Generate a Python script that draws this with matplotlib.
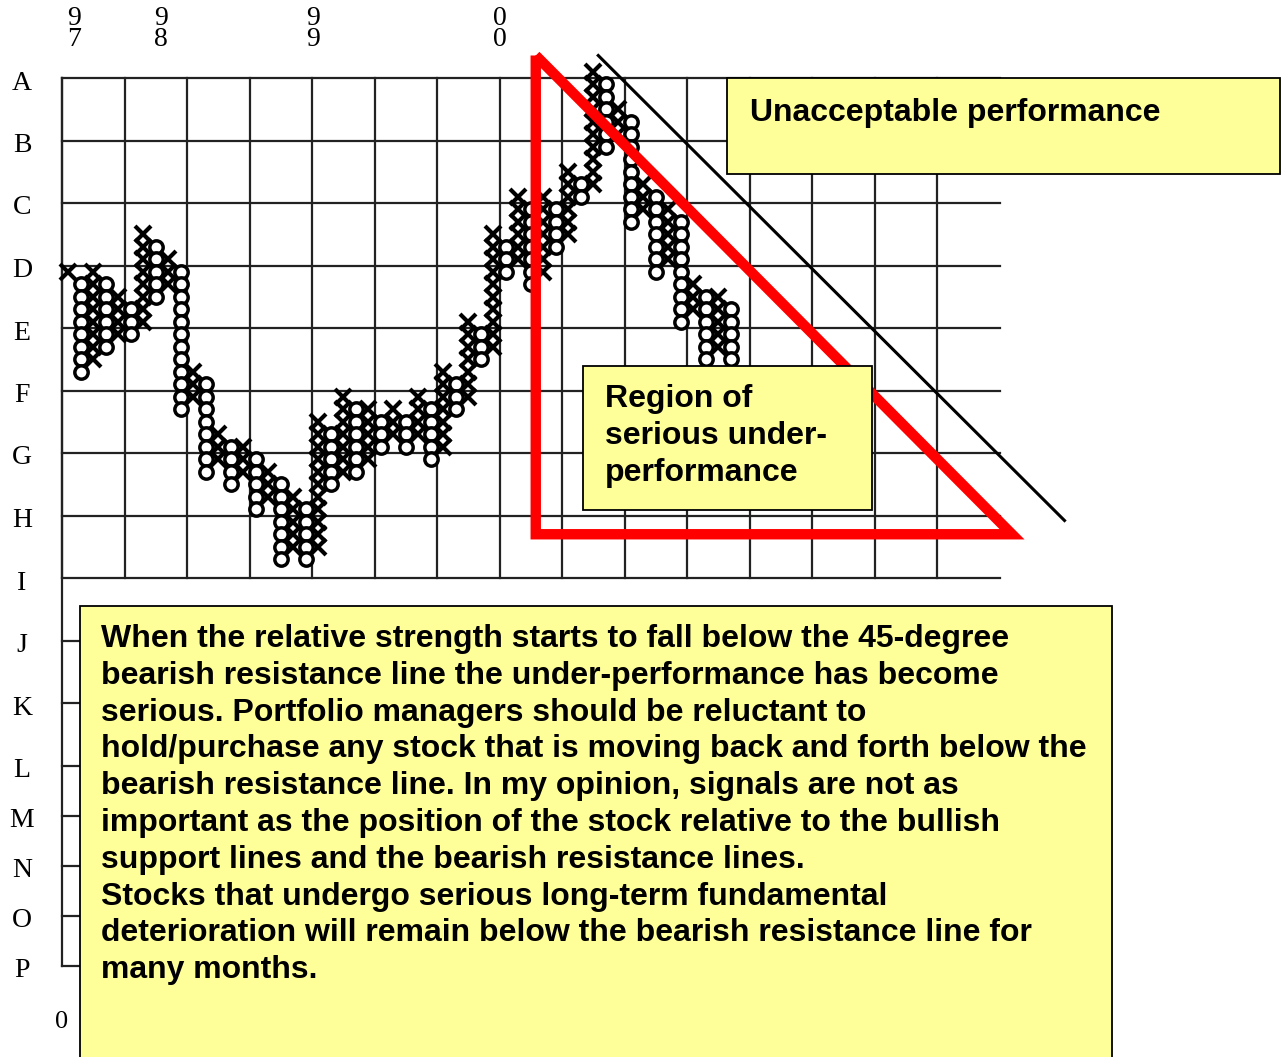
import matplotlib
matplotlib.use("Agg")
import matplotlib.pyplot as plt
from matplotlib.patches import Rectangle

# Point & figure relative strength chart (X = rising column, O = falling column)
# each column: (top box, bottom box), columns alternate X / O starting with X
col_tops = [15, 16, 15, 16, 17, 18, 12, 13, 14, 15, 23, 24, 28, 29, 29, 30, 31, 32,
            33, 34, 27, 28, 25, 26, 26, 27, 26, 27, 25, 26, 23, 24, 19, 20, 12, 13,
            9, 10, 9, 10, 7, 8, -1, 0, 2, 3, 8, 9, 10, 11, 16, 17, 17, 18]
col_bottoms = [15, 23, 22, 21, 20, 20, 19, 17, 16, 26, 25, 31, 30, 32, 31, 34, 33, 38,
               37, 38, 37, 32, 31, 31, 30, 29, 28, 29, 28, 30, 29, 26, 25, 22, 21, 15,
               14, 16, 15, 13, 12, 9, 8, 5, 4, 11, 10, 15, 14, 19, 18, 22, 21, 22]

# row labels and the box rows where their gridlines sit
row_labels = list("ABCDEFGHIJKLMNOP")
row_lines = [-0.5, 4.5, 9.5, 14.5, 19.5, 24.5, 29.5, 34.5, 39.5,
             44.5, 49.5, 54.5, 58.5, 62.5, 66.5, 70.5]
col_lines = [-0.5 + 5 * j for j in range(15)]

# year markers on top (column where the year starts), digits stacked
year_cols = [0.5, 7.4, 19.6, 34.5]
year_labels = ["9\n7", "9\n8", "9\n9", "0\n0"]

# 45-degree bearish resistance line and "region of under-performance" triangle
resist_cols = [42.4, 79.7]
resist_rows = [-2.3, 34.9]
region_cols = [37.4, 75.5, 37.4, 37.4]
region_rows = [-2.3, 36.0, 36.0, -2.3]

W, H = 1287, 1057
fig = plt.figure(figsize=(W / 100, H / 100), dpi=100)
ax = fig.add_axes([0, 0, 1, 1])
ax.set_xlim(-5.46, 97.5)
ax.set_ylim(77.82, -6.74)
ax.axis("off")

def px(x, y):
    return x / W, 1 - y / H

grid_kw = dict(color="#222222", lw=1.6, zorder=1)
for c in col_lines:
    ax.plot([c, c], [row_lines[0], row_lines[8]], **grid_kw)
ax.plot([col_lines[0]] * 2, [row_lines[0], row_lines[-1]], **grid_kw)
for r in row_lines:
    ax.plot([col_lines[0], 74.5], [r, r], **grid_kw)

serif = "Liberation Serif"
for lab, r in zip(row_labels, row_lines):
    ax.text(-3.7, r + 0.4, lab, fontsize=20, family=serif, ha="center", va="center")
ax.text(-0.5, 75.0, "0", fontsize=19, family=serif, ha="center", va="center")

for c, lab in zip(year_cols, year_labels):
    ax.text(c, -4.45, lab, fontsize=20, family=serif, ha="center", va="center",
            linespacing=0.78)

# X and O columns
for i, (top, bot) in enumerate(zip(col_tops, col_bottoms)):
    rows = list(range(top, bot + 1))
    if i % 2 == 0:
        ax.plot([i] * len(rows), rows, ls="none", marker="x", ms=11.5, mew=3.0,
                color="black", zorder=3)
    else:
        ax.plot([i] * len(rows), rows, ls="none", marker="o", ms=9.6, mew=2.5,
                mec="black", mfc="white", zorder=3)

ax.plot(resist_cols, resist_rows, color="black", lw=2.2, zorder=4)
ax.plot(region_cols, region_rows, color="#ff0000", lw=7.5, zorder=5,
        solid_joinstyle="miter", solid_capstyle="butt")

yellow = "#ffff99"

def box(x0, y0, x1, y1):
    (fx0, fy1), (fx1, fy0) = px(x0, y0), px(x1, y1)
    fig.patches.append(Rectangle((fx0, fy0), fx1 - fx0, fy1 - fy0, transform=fig.transFigure,
                                 facecolor=yellow, edgecolor="black", lw=1.3, zorder=6))

text_kw = dict(fontsize=23, family="Liberation Sans", weight="bold", ha="left",
               va="baseline", transform=fig.transFigure, zorder=7)

box(727, 78, 1280, 174)
fig.text(*px(750, 121), "Unacceptable performance", **text_kw)

box(583, 366, 872, 510)
for i, line in enumerate(["Region of", "serious under-", "performance"]):
    fig.text(*px(605, 407 + 37 * i), line, **text_kw)

box(80, 606, 1112, 1062)
body = [
    "When the relative strength starts to fall below the 45-degree",
    "bearish resistance line the under-performance has become",
    "serious. Portfolio managers should be reluctant to",
    "hold/purchase any stock that is moving back and forth below the",
    "bearish resistance line. In my opinion, signals are not as",
    "important as the position of the stock relative to the bullish",
    "support lines and the bearish resistance lines.",
    "Stocks that undergo serious long-term fundamental",
    "deterioration will remain below the bearish resistance line for",
    "many months.",
]
for i, line in enumerate(body):
    fig.text(*px(101, 647 + 36.8 * i), line, **text_kw)

fig.savefig("out.png", dpi=100)
